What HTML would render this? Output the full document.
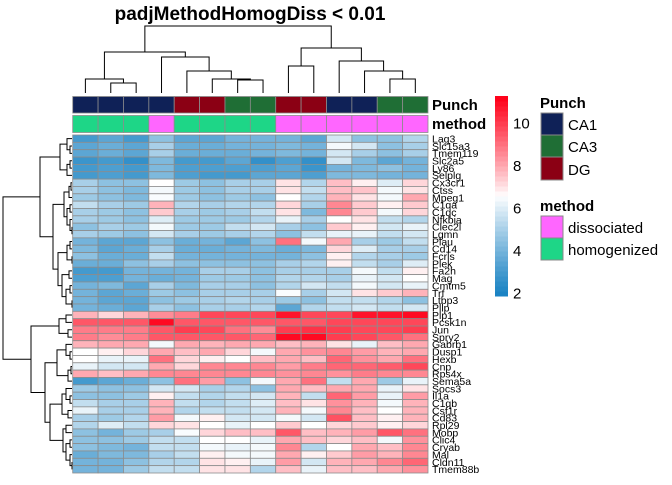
<!DOCTYPE html>
<html><head><meta charset="utf-8"><style>
html,body{margin:0;padding:0;background:#fff;}
svg text{font-family:"Liberation Sans",Arial,sans-serif;}
</style></head><body>
<svg id="chart" width="672" height="480" viewBox="0 0 672 480" xmlns="http://www.w3.org/2000/svg">
<text x="250" y="20" font-size="19" font-weight="bold" text-anchor="middle">padjMethodHomogDiss &lt; 0.01</text>
<g id="coldend"></g>
<g id="rowdend"></g>
<g id="annot"></g>
<g id="cells"></g>
<g id="rowlabels"></g>
<g id="colorbar"></g>
<g>
<text x="540" y="108" font-size="15" font-weight="bold">Punch</text>
<rect x="541" y="113" width="22" height="22" fill="#0f2157" stroke="#888"/>
<rect x="541" y="135" width="22" height="22" fill="#1f6e35" stroke="#888"/>
<rect x="541" y="157" width="22" height="23" fill="#8b0014" stroke="#888"/>
<text x="568" y="130" font-size="15">CA1</text>
<text x="568" y="152" font-size="15">CA3</text>
<text x="568" y="175" font-size="15">DG</text>
</g>
<g>
<text x="540" y="211" font-size="15" font-weight="bold">method</text>
<rect x="541" y="216" width="22" height="22" fill="#ff66ff" stroke="#888"/>
<rect x="541" y="238" width="22" height="22" fill="#1ed687" stroke="#888"/>
<text x="568" y="233" font-size="15">dissociated</text>
<text x="568" y="255" font-size="15">homogenized</text>
</g>
</svg>
<script>
const genes=["Lag3","Slc15a3","Tmem119","Slc2a5","Ly86","Selplg","Cx3cr1","Ctss","Mpeg1","C1qa","C1qc","Nfkbia","Clec2l","Lgmn","Plau","Cd14","Fcrls","Plek","Fa2h","Mag","Cmtm5","Trf","Ltbp3","Pllp","Plp1","Pcsk1n","Jun","Spry2","Gabrb1","Dusp1","Hexb","Cnp","Rps4x","Sema5a","Socs3","Il1a","C1qb","Csf1r","Cd83","Rpl29","Mobp","Clic4","Cryab","Mal","Cldn11","Tmem88b"];
const punch=["CA1","CA1","CA1","CA1","DG","DG","CA3","CA3","DG","DG","CA1","CA1","CA3","CA3"];
const method=["homogenized","homogenized","homogenized","dissociated","homogenized","homogenized","homogenized","homogenized","dissociated","dissociated","dissociated","dissociated","dissociated","dissociated"];
const legendTicks=[2,4,6,8,10];
const values=[
[3,3.5,3,4.5,3.5,3.5,4,4,4,3.5,5.8,4.5,4.5,5.2],
[3.5,3.8,3.5,5,3.8,3.8,4,4,4.2,4,6.4,5.8,4.5,5],
[3.5,3.8,3.5,5,3.8,3.8,3.8,4,4.2,4,5.8,5,4.5,5],
[2.8,3,2.6,4.2,3,3,3.5,2.6,3.2,2.6,5.8,4.2,3.5,4],
[3,3.2,3,4.2,3.2,3.2,3.2,3.2,3.5,2.8,4,4.2,4.5,4],
[3,3.2,3,4.2,3.2,3,3,3.5,3.5,3.2,4.2,4.2,4,4],
[5,4.5,4.5,6.6,4.8,4.5,5,5,7,5.2,7.6,6.8,6,7.2],
[5,4.5,4.2,6.4,4.8,4.5,5,5,7,5.5,7.6,7.5,6.4,7],
[4.8,4.5,4.2,6.5,4.8,4.5,4.8,4.5,6.6,5.2,7.8,7,6.4,8],
[5.5,5,4.8,7.8,5.2,5,5.2,5.2,7.2,5,8.6,7.4,6.8,7.4],
[5,4.8,4.5,7.4,5,4.8,5,5.5,7,4.2,8.6,7.4,6.4,7.2],
[5,4.8,4.5,6,4.8,4.8,4.8,5.2,6.2,5,6.6,7,5.5,5.2],
[4.5,5,4.8,6.4,4.8,4.8,5.5,5.8,5,4.5,7.4,6.8,5.8,6.2],
[5,4.8,4.5,5.8,5,4.8,5,5.2,4.5,5.5,6.2,6.2,5.5,5.8],
[4,3.5,3.5,4.5,3.8,4,3.5,4.5,9,6.4,8,5,4.8,5.5],
[4.2,3.5,3.8,5,3.8,3.8,4,4.2,3.8,4.2,7.2,6,5,5],
[4.5,3.8,3.8,5.5,4,4,4,4,4,4.5,6.8,5.2,5,4.8],
[3.8,3.8,4.5,5,4.5,4.5,4.5,4.5,5,5.2,6.8,5.5,5,6],
[3,3,4,4,4,5,5,4.5,5,5,5,6.4,5.5,6.8],
[3.2,3.2,4,3.8,4,4.8,4.8,4.5,5.2,5.2,5,6.2,5.8,6.6],
[4,4.2,3.5,5,4.2,5,5,4.5,5.2,5.8,5.5,6.4,5.8,6.2],
[4,3.5,3.8,4.8,4.5,5,5,5,6.5,5,5.8,7,7.4,7.8],
[4,3.5,3.5,4.5,4.8,5,5.2,5,4.8,4.5,5.5,5.5,5.2,4.5],
[4,3.8,3.5,5,4.5,5,5,5.2,3.5,5.2,5.5,5.8,5.5,5.8],
[7.8,7.2,7.8,8.5,8.8,9.8,9.8,9.8,10.8,9.8,9.8,10.8,10.8,11],
[9.5,9.5,9.5,11,9.5,9.5,9.5,9.5,9.5,9.5,9.8,9.8,9.8,9.8],
[8.8,8.8,8.8,9.5,10,9.8,9,8.5,10,10.2,10,9.8,9.8,10],
[8.8,8.5,8.8,9.5,9.5,9.5,9.5,9.2,11,11,10,9.8,9.5,9],
[7.8,8,8,6.4,8,7.8,8,8,7.6,7.8,7,6.2,7.6,8],
[6.6,6.8,7.2,8,7.6,8,7.2,6.4,8,8.4,8.6,8.2,7.8,8],
[6.6,6.2,6.2,9,7.2,6.8,6.6,7.6,8,7.6,9.2,8.4,8,9],
[6.2,5.8,5.8,8,7.2,8.6,8.6,8.6,8.2,8.8,9.2,9.2,9.4,9.8],
[8,7.6,8,8.6,8.6,8.6,8.6,8.6,8.4,8.6,8.4,8.8,8.6,8.6],
[3,3.5,3.8,4.5,9,8.2,4.5,6.4,8,9,5.5,8,4.8,6.2],
[4.8,4.5,4.5,5.8,5.8,5,5.2,4.5,8,7.6,8,8,6.2,7],
[4.5,4.5,4.8,6.8,5.5,5.2,5.5,5.8,7.8,5.5,9.2,8.2,6.2,8.2],
[5.5,5,5,7.8,5.5,5.2,5.5,6,7.6,7,8.4,7.8,6.4,7.8],
[6.2,5,5,7.8,5.2,5.5,5.5,5.8,7.8,6.4,8.6,7.6,6.6,7.8],
[5,4.8,5.2,8.2,6.4,6.8,5.8,5.8,6.4,5.8,9.6,7.6,6.8,7.8],
[5.2,6,5.5,7.2,7,6.6,6.2,6.6,7.4,6.6,7.2,7.4,6.8,7.2],
[4.5,4,4.8,5,6.5,7.2,7.6,7.6,9.5,7.6,7.8,8.2,9.5,9],
[4.5,4.5,4.8,5.5,5.5,6.6,6.6,6.2,8,7.6,7.2,7.6,6.4,8.4],
[4.5,4.2,4,5.5,5.5,6.4,6.2,6.4,8.6,5.2,6.6,8,7.6,8.6],
[3.8,4.2,4.2,5,5.5,6.8,6.4,6.4,8,6.8,7.4,8.2,7.8,8.6],
[4,4,4.5,5.2,5.2,7,6.8,6.2,8.2,5.8,7.8,8,8.6,9.2],
[4,4,4.8,5.5,5.5,7,7,5.2,7.6,6.2,7.6,7.6,8,8.4]
];
// dendrogram topology: [mergeHeightPx, left, right]; leaves are indices
const colTree=[26,[52,[79,0,[83,1,2]],[57,3,[71,4,[79,5,[80,6,7]]]]],[48,[66,8,9],[61,10,[71,11,[79,12,13]]]]];
const rowTree=[3,[40,[60,[67,0,[70,1,2]],[67,[70,3,4],5]],[53,[64,[69,[71,6,7],8],[67,[70,9,10],[70,11,[72,12,13]]]],[58,[67,[70,14,15],[72,16,17]],[62,[69,18,19],[66,[70,20,21],[72,22,23]]]]]],[31,[59,[66,24,25],[68,26,27]],[45,[57,[66,28,[70,29,30]],[68,[71,31,32],33]],[50,[62,[66,34,[70,35,36]],[68,37,38]],[63,[66,39,40],[66,[70,41,42],[70,43,[72,44,45]]]]]]]];

const NS="http://www.w3.org/2000/svg";
const X0=72.7,Y0=135,CW=(428-72.7)/14,RH=(473-135)/46;
const colX=i=>X0+i*CW, rowY=r=>Y0+r*RH;
function lerp(a,b,t){return a.map((v,i)=>Math.round(v+(b[i]-v)*t));}
function color(v){
  const lo=1.9,mid=6.6,hi=11.2;
  let c;
  if(v<=mid){const t=Math.max(0,(v-lo)/(mid-lo));c=lerp([25,130,195],[255,255,255],Math.pow(t,1.15));}
  else{const t=Math.min(1,(v-mid)/(hi-mid));c=lerp([255,255,255],[255,0,25],Math.pow(t,0.9));}
  return `rgb(${c[0]},${c[1]},${c[2]})`;
}
function mk(tag,attrs,parent){const e=document.createElementNS(NS,tag);for(const k in attrs)e.setAttribute(k,attrs[k]);parent.appendChild(e);return e;}
const cells=document.getElementById('cells');
values.forEach((row,r)=>row.forEach((v,c)=>{
  const e=mk('rect',{x:colX(c),y:rowY(r),width:CW,height:RH,fill:color(v),stroke:'#8c8c8c','stroke-width':0.8},cells);
  
  
}));
const rl=document.getElementById('rowlabels');
genes.forEach((g,r)=>{
  const t=mk('text',{x:432,y:rowY(r)+RH/2+3.8,'font-size':10.5},rl);t.textContent=g;
  
  
});
const an=document.getElementById('annot');
const pc={CA1:'#0f2157',CA3:'#1f6e35',DG:'#8b0014'},mc={dissociated:'#ff66ff',homogenized:'#1ed687'};
punch.forEach((p,c)=>{
  const e=mk('rect',{x:colX(c),y:96.5,width:CW,height:16.5,fill:pc[p],stroke:'#8c8c8c','stroke-width':0.8},an);
  
  
  const m=mk('rect',{x:colX(c),y:115.5,width:CW,height:17,fill:mc[method[c]],stroke:'#8c8c8c','stroke-width':0.8},an);
  
  
});
const at1=mk('text',{x:432,y:110,'font-size':15,'font-weight':'bold'},an);at1.textContent='Punch';


const at2=mk('text',{x:432,y:129,'font-size':15,'font-weight':'bold'},an);at2.textContent='method';


// dendrograms
function drawCol(node,g){
  if(typeof node==='number')return {p:colX(node)+CW/2,h:93};
  const a=drawCol(node[1],g),b=drawCol(node[2],g),h=node[0];
  mk('path',{d:`M${a.p},${a.h}V${h}H${b.p}V${b.h}`,fill:'none',stroke:'#000','stroke-width':1},g);
  return {p:(a.p+b.p)/2,h:h};
}
drawCol(colTree,document.getElementById('coldend'));
function drawRow(node,g){
  if(typeof node==='number')return {p:rowY(node)+RH/2,h:72};
  const a=drawRow(node[1],g),b=drawRow(node[2],g),h=node[0];
  mk('path',{d:`M${a.h},${a.p}H${h}V${b.p}H${b.h}`,fill:'none',stroke:'#000','stroke-width':1},g);
  return {p:(a.p+b.p)/2,h:h};
}
drawRow(rowTree,document.getElementById('rowdend'));
// colorbar
const cb=document.getElementById('colorbar');
const vTop=11.27,vBot=1.86,yTop=96,yBot=296,vy=v=>yBot-(v-vBot)/(vTop-vBot)*(yBot-yTop);
const N=40;
for(let i=0;i<N;i++){
  const v0=vBot+(vTop-vBot)*i/N,v1=vBot+(vTop-vBot)*(i+1)/N;
  mk('rect',{x:495,y:vy(v1),width:13,height:vy(v0)-vy(v1)+0.5,fill:color((v0+v1)/2)},cb);
}
legendTicks.forEach(t=>{
  const e=mk('text',{x:513,y:vy(t)+5.5,'font-size':15},cb);e.textContent=t;
  
  
});
</script>
</body></html>
